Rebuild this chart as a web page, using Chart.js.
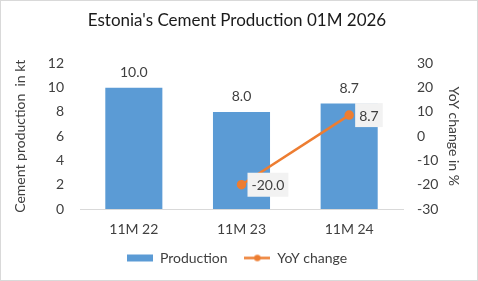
<!DOCTYPE html>
<html lang="en">
  <head>
    <meta charset="UTF-8" />
    <title>Estonia's Cement Production 01M 2026</title>
    <style>
      body { margin: 0; background: #fff; }
      #wrap { width: 478px; height: 281px; }
    </style>
    <script src="https://cdn.jsdelivr.net/npm/chart.js@4.4.1/dist/chart.umd.min.js"></script>
  </head>
  <body>
    <div id="wrap"><canvas id="cementChart" width="478" height="281"></canvas></div>
    <script>
      var categories = ["11M 22", "11M 23", "11M 24"];
      var production = [10.0, 8.0, 8.7];
      var yoyChange = [null, -20.0, 8.7];
      var leftTicks = [0, 2, 4, 6, 8, 10, 12];
      var rightTicks = [-30, -20, -10, 0, 10, 20, 30];

      var blue = "#5B9BD5";
      var orange = "#ED7D31";
      var textColor = "#404040";
      var fontFamily = "Lato, 'Open Sans', sans-serif";

      // little legend markers
      function makeMarker(kind) {
        var c = document.createElement("canvas");
        c.width = 26;
        c.height = 9;
        var ctx = c.getContext("2d");
        if (kind === "bar") {
          ctx.fillStyle = blue;
          ctx.fillRect(0, 1, 26, 7);
        } else {
          ctx.strokeStyle = orange;
          ctx.lineWidth = 2.5;
          ctx.beginPath();
          ctx.moveTo(0, 4.5);
          ctx.lineTo(26, 4.5);
          ctx.stroke();
          ctx.fillStyle = orange;
          ctx.beginPath();
          ctx.arc(13, 4.5, 3.2, 0, Math.PI * 2);
          ctx.fill();
        }
        return c;
      }
      var barMarker = makeMarker("bar");
      var lineMarker = makeMarker("line");

      var frame = {
        id: "frame",
        beforeDraw(chart) {
          var ctx = chart.ctx;
          ctx.save();
          ctx.fillStyle = "#fff";
          ctx.fillRect(0, 0, chart.width, chart.height);
          ctx.strokeStyle = "#d9d9d9";
          ctx.lineWidth = 1;
          ctx.strokeRect(0.5, 0.5, chart.width - 1, chart.height - 1);
          ctx.restore();
        },
      };

      var valueLabels = {
        id: "valueLabels",
        afterDatasetsDraw(chart) {
          var ctx = chart.ctx;
          ctx.save();
          ctx.font = "14px " + fontFamily;
          ctx.textBaseline = "middle";
          chart.getDatasetMeta(0).data.forEach(function (bar, i) {
            ctx.fillStyle = textColor;
            ctx.textAlign = "center";
            ctx.fillText(production[i].toFixed(1), bar.x, bar.y - 15);
          });
          chart.getDatasetMeta(1).data.forEach(function (pt, i) {
            if (yoyChange[i] === null) return;
            var txt = yoyChange[i].toFixed(1);
            var w = ctx.measureText(txt).width + 8;
            var x0 = pt.x + 6;
            ctx.fillStyle = "#f2f2f2";
            ctx.fillRect(x0, pt.y - 12, w, 24);
            ctx.fillStyle = textColor;
            ctx.textAlign = "left";
            ctx.fillText(txt, x0 + 4, pt.y + 1);
          });
          ctx.restore();
        },
      };

      new Chart(document.getElementById("cementChart"), {
        type: "bar",
        data: {
          labels: categories,
          datasets: [
            {
              label: "Production",
              data: production,
              backgroundColor: blue,
              yAxisID: "y",
              categoryPercentage: 0.53,
              barPercentage: 1,
              order: 2,
            },
            {
              type: "line",
              label: "YoY change",
              data: yoyChange,
              borderColor: orange,
              backgroundColor: orange,
              borderWidth: 2.5,
              pointRadius: 3.5,
              pointHoverRadius: 3.5,
              yAxisID: "y1",
              order: 1,
            },
          ],
        },
        options: {
          responsive: false,
          animation: false,
          layout: { padding: { left: 8, right: 12, top: 0, bottom: 6 } },
          scales: {
            x: {
              grid: { display: false, drawTicks: false },
              border: { display: true, color: "#d9d9d9" },
              ticks: { color: textColor, font: { size: 14, family: fontFamily }, padding: 12 },
              afterFit(scale) { scale.height = 36; },
            },
            y: {
              position: "left",
              min: 0,
              max: 12,
              afterBuildTicks(scale) { scale.ticks = leftTicks.map(function (v) { return { value: v }; }); },
              grid: { display: false, drawTicks: false },
              border: { display: false },
              ticks: { color: textColor, font: { size: 14, family: fontFamily }, padding: 16 },
              title: { display: true, text: "Cement production  in kt", color: textColor, font: { size: 14, family: fontFamily } },
              afterFit(scale) { scale.width = 72; },
            },
            y1: {
              position: "right",
              min: -30,
              max: 30,
              afterBuildTicks(scale) { scale.ticks = rightTicks.map(function (v) { return { value: v }; }); },
              grid: { display: false, drawTicks: false },
              border: { display: false },
              ticks: { color: textColor, font: { size: 14, family: fontFamily }, padding: 14 },
              title: { display: true, text: "YoY change in %", color: textColor, font: { size: 14, family: fontFamily } },
              afterFit(scale) { scale.width = 63; },
            },
          },
          plugins: {
            title: {
              display: true,
              text: "Estonia's Cement Production 01M 2026",
              color: "#1a1a1a",
              font: { size: 17, weight: "normal", family: fontFamily },
              padding: { top: 10, bottom: 33 },
            },
            legend: {
              position: "bottom",
              labels: {
                color: textColor,
                font: { size: 14, family: fontFamily },
                usePointStyle: true,
                pointStyleWidth: 26,
                padding: 6,
                generateLabels() {
                  return [
                    { text: "Production   ", pointStyle: barMarker, datasetIndex: 0, fontColor: textColor },
                    { text: "YoY change", pointStyle: lineMarker, datasetIndex: 1, fontColor: textColor },
                  ];
                },
              },
            },
            tooltip: { enabled: false },
          },
        },
        plugins: [frame, valueLabels],
      });
    </script>
  </body>
</html>
